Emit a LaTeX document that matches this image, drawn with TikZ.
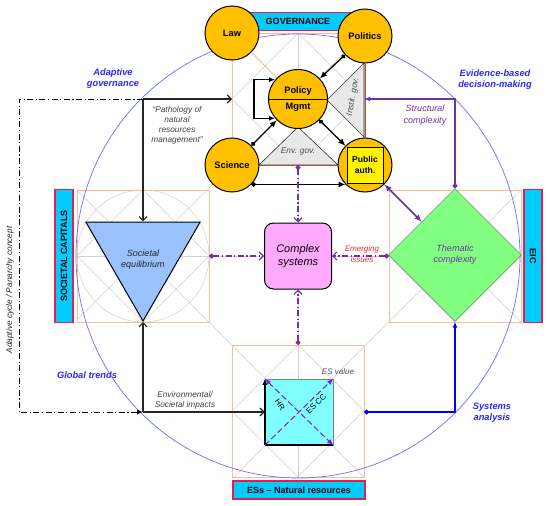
\documentclass[tikz,border=0pt]{standalone}
\usepackage{fontspec}
\setmainfont{Liberation Sans}
\usetikzlibrary{
  arrows.meta,
  calc,
  positioning,
  shapes,
  shapes.geometric,
}
\definecolor{govcyan}{RGB}{0,204,255}
\definecolor{barred}{RGB}{232,30,80}
\definecolor{goldfill}{RGB}{255,192,0}
\definecolor{peach}{RGB}{250,190,150}
\definecolor{brownline}{RGB}{160,90,50}
\definecolor{trigrey}{RGB}{232,232,232}
\definecolor{circblue}{RGB}{110,110,255}
\definecolor{sysblue}{RGB}{0,0,255}
\definecolor{noteblue}{RGB}{40,40,255}
\definecolor{cplxpurple}{RGB}{112,48,160}
\definecolor{cplxpink}{RGB}{255,170,255}
\definecolor{eqblue}{RGB}{153,194,255}
\definecolor{themegreen}{RGB}{128,255,128}
\definecolor{escyan}{RGB}{128,255,255}
\definecolor{esviolet}{RGB}{130,20,240}
\definecolor{emergred}{RGB}{255,40,40}

\tikzstyle{gridline} = [draw=black!18, line width=0.5pt]
\tikzstyle{sqline} = [draw=peach, line width=0.9pt]
\tikzstyle{brownedge} = [draw=brownline, line width=1pt]
\tikzstyle{tri} = [draw=black!80, fill=trigrey, line width=0.6pt]
\tikzstyle{labelbar} = [
  rectangle,
  draw=barred,
  line width=1.2pt,
  fill=govcyan,
  inner sep=0pt,
  font=\bfseries\fontsize{9}{10}\selectfont,
]
\tikzstyle{actor} = [
  circle,
  draw,
  line width=1pt,
  fill=goldfill,
  minimum size=54,
  inner sep=0pt,
  font=\bfseries\fontsize{9.3}{11}\selectfont,
]
\tikzstyle{link} = [
  {Circle[length=4.5pt]}-{Latex[length=7pt,width=6pt]},
  line width=1.3pt,
]
\tikzstyle{flow} = [
  -{Straight Barb[length=4pt,width=8pt]},
  line width=1.2pt,
  black!85,
]
\tikzstyle{cycleflow} = [
  -{Latex[length=6pt,width=5pt]},
  line width=1pt,
  dash pattern=on 6pt off 2.5pt on 1.2pt off 2.5pt,
]
\tikzstyle{cplxflow} = [
  {Circle[length=5pt]}-{Straight Barb[length=4pt,width=8pt]},
  line width=1.2pt,
  cplxpurple,
  dash pattern=on 6pt off 2.5pt on 1.2pt off 2.5pt,
]
\tikzstyle{esdiag} = [esviolet, line width=1pt, dash pattern=on 6pt off 3pt]
\tikzstyle{note} = [font=\itshape\fontsize{8.3}{10}\selectfont, text=black!75, align=center]
\tikzstyle{bluenote} = [font=\bfseries\itshape\fontsize{9.3}{11}\selectfont, text=noteblue, align=center]

\begin{document}
\begin{tikzpicture}[x=1pt, y=-1pt]
  \useasboundingbox (0,0) rectangle (550,506);

  % construction grid
  \foreach \cx/\cy in {298/99, 143/256, 455/256, 298/411}{
    \draw[gridline] (\cx,\cy-66) -- (\cx+66,\cy) -- (\cx,\cy+66) -- (\cx-66,\cy) -- cycle;
  }
  \draw[gridline] (143,256) circle (66);
  \draw[gridline] (77,190) -- (364,477);
  \draw[gridline] (232,33) -- (521,322);
  \draw[gridline] (364,33) -- (77,320);
  \draw[gridline] (521,190) -- (232,479);
  \draw[gridline] (77,256) -- (521,256);
  \draw[gridline] (298,33) -- (298,477);

  \foreach \cx/\cy in {298/99, 143/256, 455/256, 298/411}{
    \draw[sqline] (\cx-66,\cy-66) rectangle (\cx+66,\cy+66);
  }
  \draw[circblue, line width=0.7pt] (298,256) circle (222);

  \coordinate (adapt) at (143,99);
  \coordinate (glob) at (143,412);
  \coordinate (topw) at (232,99);
  \coordinate (tope) at (364,99);
  \coordinate (envbase) at (298,165);
  \coordinate (leftsqe) at (209,256);
  \coordinate (rightsqw) at (389,256);
  \coordinate (botsqn) at (298,345);
  \coordinate (botsqe) at (364,412);

  \draw[tri] (259,165) -- (298,127) -- (338,165) -- cycle;
  \draw[tri] (364,63) -- (327,100) -- (364,137) -- cycle;
  \node[note, text=black!70] (envgov) at (298,152) {Env. gov.};
  \node[note, text=black!70, rotate=80] (instgov) at (353,97) {Instit. gov.};

  \node[labelbar, minimum width=132, minimum height=18] (gov) at (298,21.5) {GOVERNANCE};
  \node[labelbar, rotate=90, minimum width=133, minimum height=18] (soccap) at (64,256) {SOCIETAL CAPITALS};
  \node[labelbar, rotate=-90, minimum width=133, minimum height=18] (eic) at (533,256) {EIC};
  \node[labelbar, minimum width=132, minimum height=18] (ess) at (299,490) {ESs – Natural resources};

  \node[actor] (law) at (232,33) {Law};
  \node[actor] (polit) at (365,36) {Politics};
  \node[actor] (sci) at (232,165) {Science};
  \node[actor] (pub) at (365,165) {};
  \node[rectangle, draw, line width=1pt, fill=yellow, minimum size=36, inner sep=0pt, align=center,
        font=\bfseries\fontsize{8.5}{10.5}\selectfont] (pubbox) at (pub) {Public\\auth.};
  \node[actor, minimum size=59] (pol) at (298,99) {};
  \draw[line width=1pt] (pol.west) -- (pol.east);
  \node[font=\bfseries\fontsize{9.3}{11}\selectfont] (poltxt) [above=0pt of pol.center] {Policy};
  \node[font=\bfseries\fontsize{9.3}{11}\selectfont] (mgmttxt) [below=1pt of pol.center] {Mgmt};

  \node[rectangle, rounded corners=9pt, draw, line width=1pt, fill=cplxpink, minimum width=67, minimum height=66,
        align=center, font=\itshape\fontsize{11}{13}\selectfont] (cplx) at (298,256) {Complex\\systems};

  \node[regular polygon, regular polygon sides=3, shape border rotate=180, draw, line width=1pt, fill=eqblue,
        minimum size=132, inner sep=0pt] (soceq) at (143,255) {};
  \node[note, text=black!85, font=\itshape\fontsize{9}{11}\selectfont] (soceqtxt) at (143,260) {Societal\\equilibrium};

  \node[diamond, draw=black!60, fill=themegreen, minimum width=133, minimum height=133, inner sep=0pt, align=center,
        text=cplxpurple, font=\itshape\fontsize{9}{11}\selectfont] (theme) at (455,255) {Thematic\\complexity};

  \node[rectangle, draw=black!50, fill=escyan, minimum width=68, minimum height=66] (es) at (299,412) {};
  \draw[line width=1.5pt] (es.south west) -- (es.south east);
  \draw[line width=1.5pt, -{Latex[length=6pt,width=5pt]}] (es.south west) -- (es.north west);
  \draw[esdiag, -{Latex[length=6pt,width=5pt]}] (es.south west) -- (es.north east);
  \draw[esdiag, {Latex[length=6pt,width=5pt]}-{Latex[length=6pt,width=5pt]}] (es.north west) -- (es.south east);
  \node[inner sep=0pt, font=\fontsize{8}{10}\selectfont, rotate=45] (escc) at (316,404) {ES CC};
  \node[inner sep=0pt, font=\fontsize{8}{10}\selectfont, rotate=-55] (hr) at (280,405) {HR};
  \node[note, inner sep=0pt, text=black!70, font=\itshape\fontsize{8}{10}\selectfont] (esval) at (338,372) {ES value};

  % governance links
  \draw[link] (polit) -- (pol);
  \draw[link] (sci) -- (pol);
  \draw[link] (pol) -- (pub);
  \draw[link] (sci.-45) -- (pub.-135);
  \draw[brownedge] (polit) -- (pub);
  \draw[brownedge] (sci) -- (pub);
  \draw[sqline] (law) -- (pol);
  \draw[line width=1.2pt, {Latex[length=6pt,width=5pt]}-{Latex[length=6pt,width=5pt]}] (pol.140) -- ++(-21,0) |- (pol.220);

  \draw[flow] (adapt) -- (topw);
  \draw[flow] (adapt) -- (soceq.north);
  \draw[flow] (glob) -- (soceq.south);
  \draw[flow] (glob) -- (es.west);
  \draw[cycleflow] (adapt) -- ++(-124,0) |- (glob);

  \draw[sysblue, line width=1.2pt, {Circle[length=5pt]}-{Latex[length=6pt,width=5pt]}] (botsqe) -| (theme.south);
  \draw[cplxpurple, line width=1.2pt, {Circle[length=5pt]}-{Latex[length=6pt,width=5pt]}] (theme.north) |- (tope);
  \draw[cplxpurple, line width=1.5pt, {Latex[length=7pt,width=6pt]}-{Latex[length=7pt,width=6pt]}] (pub.-45) -- (theme.north west);

  \draw[cplxflow] (leftsqe) -- (cplx.west);
  \draw[cplxflow] (rightsqw) -- (cplx.east);
  \draw[cplxflow] (envbase) -- (cplx.north);
  \draw[cplxflow] (botsqn) -- (cplx.south);

  \node[note, text=emergred, font=\itshape\fontsize{8}{11}\selectfont] (emerg) at (362,254) {Emerging\\issues};
  \node[note, text=cplxpurple, font=\itshape\fontsize{9}{12}\selectfont] (struct) at (425,115) {Structural\\complexity};
  \node[note] (patho) at (177,125) {“Pathology of\\natural\\resources\\management”};
  \node[note] (impacts) at (185,400) {Environmental/\\Societal impacts};
  \node[note, text=black!85, rotate=90] (cycletxt) at (10,290) {Adaptive cycle / Panarchy concept};

  \node[bluenote] (adgov) at (113,79) {Adaptive\\governance};
  \node[bluenote] (evid) at (495,80) {Evidence-based\\decision-making};
  \node[bluenote] (global) at (87,375) {Global trends};
  \node[bluenote] (sysan) at (492,413) {Systems\\analysis};
\end{tikzpicture}
\end{document}
